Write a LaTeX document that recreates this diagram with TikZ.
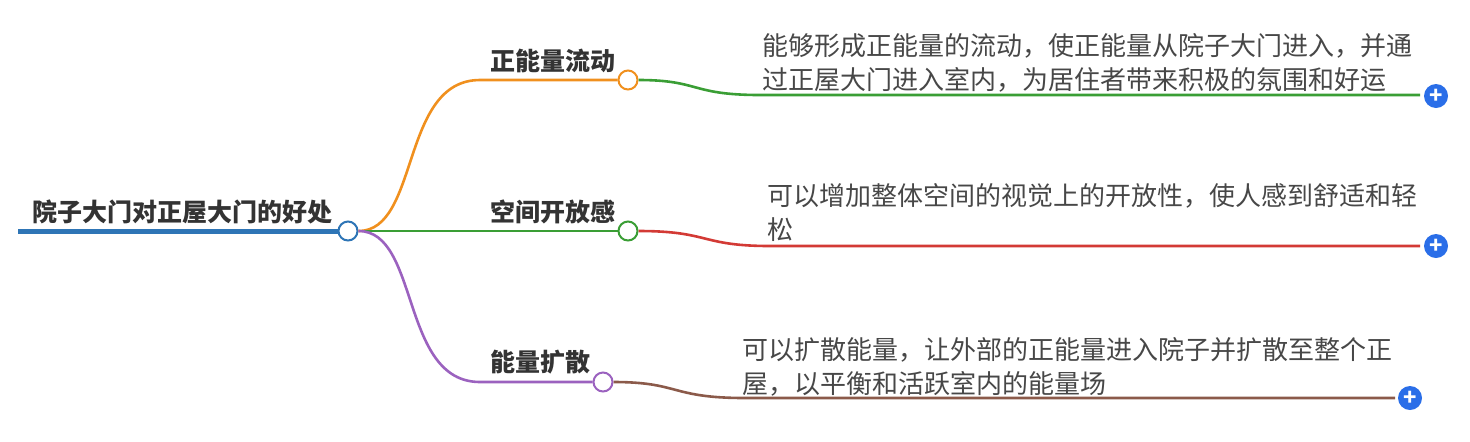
\documentclass[tikz,border=0pt]{standalone}
\usepackage{fontspec}
\setmainfont{Noto Sans CJK SC}
\usetikzlibrary{positioning}
\definecolor{rootblue}{HTML}{2E75B6}
\definecolor{orangeb}{HTML}{F0901E}
\definecolor{greenb}{HTML}{3A9E35}
\definecolor{purpleb}{HTML}{9B62BF}
\definecolor{redb}{HTML}{D33A35}
\definecolor{brownb}{HTML}{8B5A4A}
\definecolor{plusblue}{HTML}{2A6EE8}
\definecolor{txtgray}{HTML}{333333}
\begin{document}
\begin{tikzpicture}[x=0.5pt,y=-0.5pt,
        knob/.style={circle, draw, line width=1pt, fill=white, inner sep=0pt, minimum size=9.5pt},
        plusdot/.style={circle, fill=plusblue, inner sep=0pt, minimum size=12pt, text=white, font=\bfseries\fontsize{11}{11}\selectfont},
        topic/.style={font=\bfseries\fontsize{12.5}{14}\selectfont, text=txtgray, inner sep=0pt, anchor=south west},
        note/.style={font=\fontsize{13}{17}\selectfont, text=txtgray!90, inner sep=0pt, anchor=north west, align=left},
        branch/.style={line width=1.3pt}
    ]
        \useasboundingbox (0,0) rectangle (1470,441);
        % root
        \coordinate (rstart) at (18,231);
        \node[knob, draw=rootblue] (root) at (348,231) {};
        \draw[rootblue, line width=2.5pt] (rstart) -- (root.west);
        \node[topic] (roottxt) at (32,224) {院子大门对正屋大门的好处};

        % topics
        \node[knob, draw=orangeb] (k1) at (628,80) {};
        \node[knob, draw=greenb] (k2) at (628,231) {};
        \node[knob, draw=purpleb] (k3) at (603,382) {};
        \coordinate (u1) at (480,80);
        \coordinate (u3) at (480,382);
        \node[topic] (t1) at (490,73) {正能量流动};
        \node[topic] (t2) at (490,224) {空间开放感};
        \node[topic] (t3) at (490,375) {能量扩散};

        \draw[branch, orangeb] (root.east) .. controls (420,231) and (400,80) .. (u1) -- (k1.west);
        \draw[branch, greenb] (root.east) -- (k2.west);
        \draw[branch, purpleb] (root.east) .. controls (420,231) and (400,382) .. (u3) -- (k3.west);

        % details
        \node[plusdot] (p1) at (1436,96) {+};
        \node[plusdot] (p2) at (1436,246) {+};
        \node[plusdot] (p3) at (1410,398) {+};
        \coordinate (e1) at (1420,95);
        \coordinate (e2) at (1420,246);
        \coordinate (e3) at (1395,398);
        \draw[branch, greenb] (k1.east) .. controls (700,80) and (690,95) .. (760,95) -- (e1);
        \draw[branch, redb] (k2.east) .. controls (710,231) and (700,246) .. (770,246) -- (e2);
        \draw[branch, brownb] (k3.east) .. controls (680,382) and (670,398) .. (745,398) -- (e3);
        \node[note] (n1) at (762,33) {能够形成正能量的流动，使正能量从院子大门进入，并通\\过正屋大门进入室内，为居住者带来积极的氛围和好运};
        \node[note] (n2) at (767,183) {可以增加整体空间的视觉上的开放性，使人感到舒适和轻\\松};
        \node[note] (n3) at (742,337) {可以扩散能量，让外部的正能量进入院子并扩散至整个正\\屋，以平衡和活跃室内的能量场};
    \end{tikzpicture}
\end{document}
